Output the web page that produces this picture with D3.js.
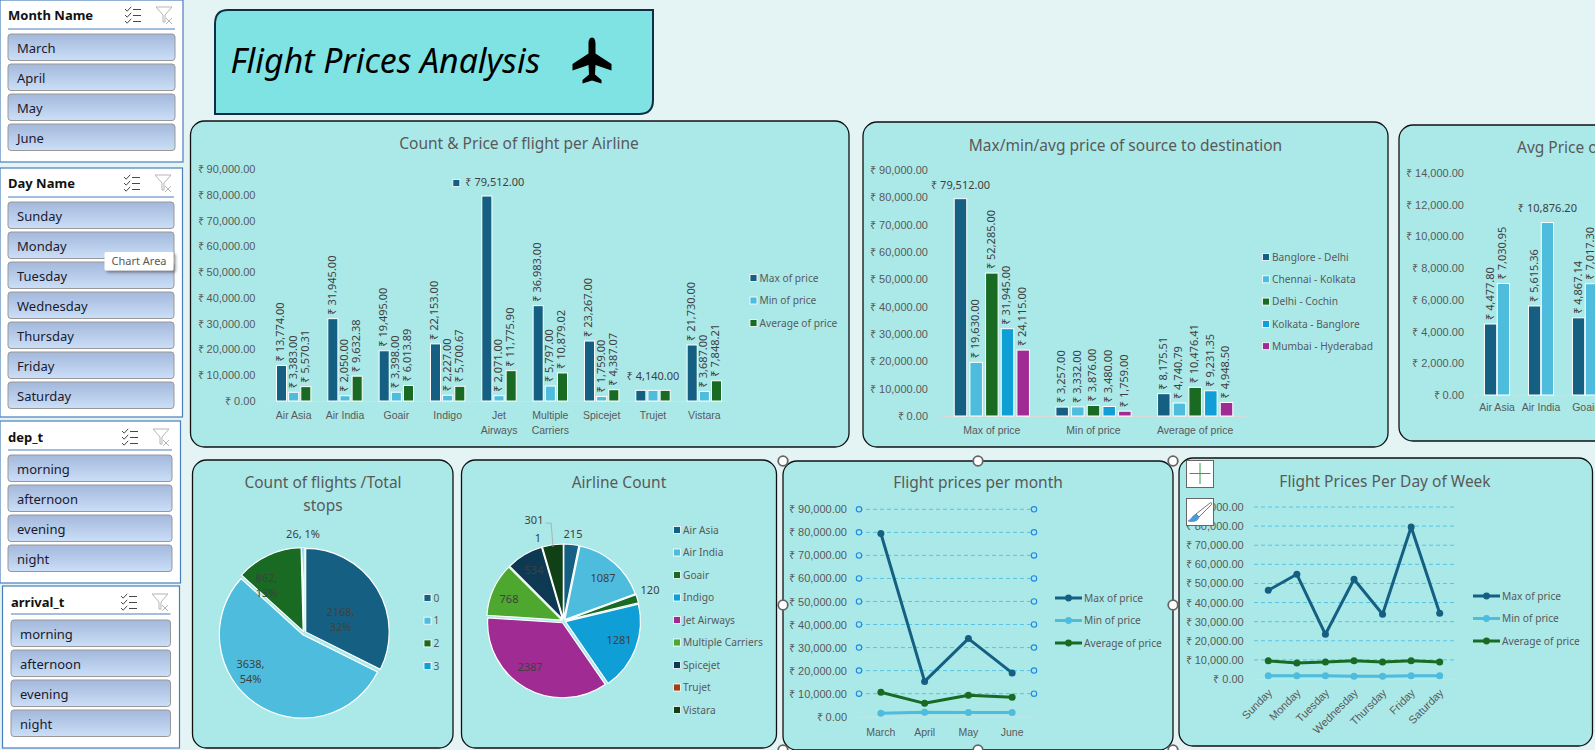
<!DOCTYPE html>
<html>
<head>
<meta charset="utf-8">
<title>Flight Prices Analysis</title>
<script src="https://cdn.jsdelivr.net/npm/d3@7/dist/d3.min.js"></script>
<style>
html, body { margin: 0; padding: 0; width: 1595px; height: 750px; overflow: hidden; background: #e4f4f4; }
svg { display: block; font-family: "Noto Sans", sans-serif; }
text { fill: #595959; }
</style>
</head>
<body>
<svg id="board" width="1595" height="750"></svg>
<script>
/*---------- DATA ----------*/
const monthNames = ["March", "April", "May", "June"];
const dayNames = ["Sunday", "Monday", "Tuesday", "Wednesday", "Thursday", "Friday", "Saturday"];
const timeNames = ["morning", "afternoon", "evening", "night"];

const airlines = ["Air Asia", "Air India", "Goair", "Indigo", "Jet Airways", "Multiple Carriers", "Spicejet", "Trujet", "Vistara"];
const priceSeries = ["Max of price", "Min of price", "Average of price"];
const airlineMax = [13774, 31945, 19495, 22153, 79512, 36983, 23267, 4140, 21730];
const airlineMin = [3383, 2050, 3398, 2227, 2071, 5797, 1759, 4140, 3687];
const airlineAvg = [5570.31, 9632.38, 6013.89, 5700.67, 11775.90, 10879.02, 4387.07, 4140, 7848.21];

const routes = ["Banglore - Delhi", "Chennai - Kolkata", "Delhi - Cochin", "Kolkata - Banglore", "Mumbai - Hyderabad"];
const routeMax = [79512, 19630, 52285, 31945, 24115];
const routeMin = [3257, 3332, 3876, 3480, 1759];
const routeAvg = [8175.51, 4740.79, 10476.41, 9231.35, 4948.50];

const cutAirlines = ["Air Asia", "Air India", "Goair"];
const cutFirst = [4477.80, 5615.36, 4867.14];
const cutSecond = [7030.95, 10876.20, 7017.30];

const stopNames = ["0", "1", "2", "3"];
const stopCounts = [2168, 3638, 862, 26];
const stopShares = [32, 54, 13, 1];
const airlineCounts = [215, 1087, 120, 1281, 2387, 768, 534, 1, 301];

const monthMax = [79512, 15300, 33900, 19000];
const monthMin = [1500, 1900, 1800, 1800];
const monthAvg = [10600, 5800, 9300, 8400];

const dayMax = [46400, 54800, 23400, 52200, 33900, 79512, 34400];
const dayMin = [1700, 1700, 1700, 1500, 1500, 1700, 1700];
const dayAvg = [9500, 8400, 8900, 9500, 8900, 9500, 8900];

/*---------- STYLE ----------*/
const BLUE = "#156082", SKY = "#4ebcdc", GREEN = "#196b24", CYAN = "#0f9ed5", PURPLE = "#a02b93";
const LIME = "#4ea72e", NAVY = "#0d3a52", RUST = "#a0420f", FOREST = "#0f4016";
const CARD = "#abe9e9", LABEL = "#404040", AXIS = "#595959", BASE = "#d4dcdc";
const TICK_SIZE = 11;

const rupee = d => "₹ " + d3.format(",.2f")(d);
const svg = d3.select("#board");

const defs = svg.append("defs");
const grad = defs.append("linearGradient").attr("id", "slicerBtn").attr("x1", 0).attr("x2", 0).attr("y1", 0).attr("y2", 1);
grad.append("stop").attr("offset", "0%").attr("stop-color", "#a3b8db");
grad.append("stop").attr("offset", "100%").attr("stop-color", "#cbdff8");
const blur = defs.append("filter").attr("id", "tipShadow").attr("x", "-20%").attr("y", "-30%").attr("width", "150%").attr("height", "180%");
blur.append("feDropShadow").attr("dx", 2).attr("dy", 2).attr("stdDeviation", 1.5).attr("flood-color", "#555").attr("flood-opacity", 0.7);

/*---------- SHARED BITS ----------*/

//rounded card behind each chart
function card(x, y, w, h) {
    svg.append("rect")
        .attr("x", x).attr("y", y).attr("width", w).attr("height", h)
        .attr("rx", 14).attr("ry", 14)
        .attr("fill", CARD).attr("stroke", "#111").attr("stroke-width", 1.3);
}

//chart title, one text line per entry
function title(lines, cx, y, anchor) {
    lines.forEach((t, i) => {
        svg.append("text")
            .attr("x", cx).attr("y", y + 2 + i * 23)
            .attr("text-anchor", anchor || "middle")
            .attr("dominant-baseline", "middle")
            .attr("font-size", 15.5)
            .text(t);
    });
}

//square legend keys
function swatchLegend(names, colors, x, y, step, size) {
    names.forEach((n, i) => {
        const cy = y + i * step;
        svg.append("rect").attr("x", x - 3.5).attr("y", cy - 3.5).attr("width", 7).attr("height", 7)
            .attr("fill", colors[i]).attr("stroke", "#fff").attr("stroke-width", 0.8);
        svg.append("text").attr("x", x + 6).attr("y", cy + 1)
            .attr("dominant-baseline", "middle").attr("font-size", size || 10.2).text(n);
    });
}

//line + dot legend keys
function lineLegend(names, colors, x, y, step) {
    names.forEach((n, i) => {
        const cy = y + i * step;
        svg.append("line").attr("x1", x).attr("x2", x + 27).attr("y1", cy).attr("y2", cy)
            .attr("stroke", colors[i]).attr("stroke-width", 3);
        svg.append("circle").attr("cx", x + 13.5).attr("cy", cy).attr("r", 3.4).attr("fill", colors[i]);
        svg.append("text").attr("x", x + 29).attr("y", cy + 1)
            .attr("dominant-baseline", "middle").attr("font-size", 10.2).text(n);
    });
}

//value axis, labels only
function valueAxis(y, x, ticks) {
    const g = svg.append("g").attr("transform", `translate(${x},0)`)
        .call(d3.axisLeft(y).tickValues(ticks).tickFormat(rupee).tickSize(0).tickPadding(0));
    g.select(".domain").remove();
    g.selectAll("text").attr("font-size", TICK_SIZE).attr("font-family", "inherit").style("fill", AXIS);
    return g;
}

//category axis with a faint base line, long names go on two lines
function categoryAxis(x, y0, pad, wrap) {
    const g = svg.append("g").attr("transform", `translate(0,${y0})`)
        .call(d3.axisBottom(x).tickSize(0).tickPadding(pad));
    g.select(".domain").attr("stroke", BASE);
    g.selectAll("text").attr("font-size", 10.5).attr("font-family", "inherit").style("fill", AXIS);
    if (wrap) {
        g.selectAll("text").each(function (d) {
            if (d.length < 10) return;
            const words = d.split(" ");
            const t = d3.select(this).text(null);
            words.forEach((w, i) => t.append("tspan").attr("x", 0).attr("dy", i ? 15 : "0.71em").text(w));
        });
    }
    return g;
}

/*---------- BARS ----------*/

//grouped columns with vertical data labels
function barChart(o) {
    const y = d3.scaleLinear().domain([0, o.maxValue]).range([o.y0, o.yTop]);
    const x0 = d3.scaleBand().domain(o.categories).range([o.x0, o.x1]).paddingInner(o.groupPad).paddingOuter(o.groupPad / 2);
    const x1 = d3.scaleBand().domain(o.series.map((s, i) => i)).range([0, x0.bandwidth()]).paddingInner(o.barPad);

    valueAxis(y, o.labelX, o.ticks);
    categoryAxis(x0, o.y0, o.catPad, o.wrap);

    o.series.forEach((vals, s) => {
        const g = svg.append("g");
        g.selectAll("rect").data(vals).enter().append("rect")
            .attr("x", (d, i) => x0(o.categories[i]) + x1(s))
            .attr("y", d => y(d))
            .attr("width", x1.bandwidth())
            .attr("height", d => o.y0 - y(d))
            .attr("fill", o.colors[s])
            .attr("stroke", "#fff").attr("stroke-width", 1);

        vals.forEach((d, i) => {
            const key = s + ":" + i;
            if (o.hidden && o.hidden.includes(key)) return;
            const cx = x0(o.categories[i]) + x1(s) + x1.bandwidth() / 2;
            const flat = o.flat && o.flat[key];
            if (flat) {
                svg.append("text").attr("x", cx + flat.dx).attr("y", y(d) - 13)
                    .attr("text-anchor", "middle").attr("dominant-baseline", "middle")
                    .attr("font-size", TICK_SIZE).style("fill", LABEL).text(rupee(d));
                if (flat.key) {
                    svg.append("rect").attr("x", cx - 34).attr("y", y(d) - 16.5).attr("width", 7).attr("height", 7)
                        .attr("fill", o.colors[s]).attr("stroke", "#fff").attr("stroke-width", 0.8);
                }
            } else {
                svg.append("text")
                    .attr("transform", `translate(${cx},${y(d) - 4}) rotate(-90)`)
                    .attr("dominant-baseline", "middle")
                    .attr("font-size", TICK_SIZE).style("fill", LABEL).text(rupee(d));
            }
        });
    });
    return x0;
}

/*---------- LINES ----------*/

function lineChart(o) {
    const y = d3.scaleLinear().domain([0, 90000]).range([o.y0, o.yTop]);
    const x = d3.scaleBand().domain(o.categories).range([o.x0, o.x1]);
    const ticks = d3.range(0, 90001, 10000);

    valueAxis(y, o.labelX, ticks);

    const grid = ticks.slice(1);
    svg.append("g").selectAll("line").data(grid).enter().append("line")
        .attr("x1", o.x0).attr("x2", o.x1)
        .attr("y1", d => y(d)).attr("y2", d => y(d))
        .attr("stroke", "#4cc0e4").attr("stroke-width", 0.9).attr("stroke-dasharray", "4 3");

    if (o.gridHandles) {
        [o.x0, o.x1].forEach(hx => {
            svg.append("g").selectAll("circle").data(grid).enter().append("circle")
                .attr("cx", hx).attr("cy", d => y(d)).attr("r", 2.7)
                .attr("fill", CARD).attr("stroke", "#1e88e5").attr("stroke-width", 1.1);
        });
    }

    const axis = categoryAxis(x, o.y0, 12, false);
    if (o.slanted) {
        axis.selectAll("text")
            .attr("text-anchor", "end")
            .attr("dy", 0)
            .attr("font-size", 11)
            .attr("dominant-baseline", "middle")
            .attr("transform", "translate(-6,4) rotate(-45)");
    }

    const path = d3.line().x((d, i) => x(o.categories[i]) + x.bandwidth() / 2).y(d => y(d));
    o.series.forEach((vals, s) => {
        svg.append("path").attr("d", path(vals)).attr("fill", "none")
            .attr("stroke", o.colors[s]).attr("stroke-width", 3).attr("stroke-linejoin", "round");
        svg.append("g").selectAll("circle").data(vals).enter().append("circle")
            .attr("cx", (d, i) => x(o.categories[i]) + x.bandwidth() / 2)
            .attr("cy", d => y(d)).attr("r", 3.5).attr("fill", o.colors[s]);
    });
}

/*---------- PIES ----------*/

function pieChart(o) {
    const arcs = d3.pie().sort(null)(o.values);
    const arc = d3.arc().innerRadius(0).outerRadius(o.radius);
    const g = svg.append("g").attr("transform", `translate(${o.cx},${o.cy})`);

    g.selectAll("path").data(arcs).enter().append("path")
        .attr("d", arc)
        .attr("fill", (d, i) => o.colors[i])
        .attr("stroke", "#fff").attr("stroke-width", 1.2)
        .attr("transform", d => {
            const mid = (d.startAngle + d.endAngle) / 2;
            return `translate(${Math.sin(mid) * o.explode},${-Math.cos(mid) * o.explode})`;
        });

    o.labels.forEach((lines, i) => {
        lines.forEach((t, j) => {
            g.append("text")
                .attr("x", o.labelAt[i][0])
                .attr("y", o.labelAt[i][1] + 1 + (j - (lines.length - 1) / 2) * 15)
                .attr("text-anchor", "middle").attr("dominant-baseline", "middle")
                .attr("font-size", 11).style("fill", LABEL).text(t);
        });
    });
    return g;
}

/*---------- SLICERS ----------*/

function slicer(o) {
    svg.append("rect").attr("x", o.x).attr("y", o.y).attr("width", o.w).attr("height", o.h)
        .attr("fill", "#fff").attr("stroke", "#4a7ebb").attr("stroke-width", 1.2);
    svg.append("text").attr("x", o.bx).attr("y", o.headY + 1)
        .attr("dominant-baseline", "middle").attr("font-size", 13).attr("font-weight", 700)
        .style("fill", "#111").text(o.name);
    svg.append("line").attr("x1", o.bx).attr("x2", o.bx + o.bw).attr("y1", o.lineY).attr("y2", o.lineY)
        .attr("stroke", "#4a7ebb").attr("stroke-width", 1.1);

    //multi select icon
    const ms = svg.append("g").attr("transform", `translate(${o.iconX},${o.headY - 7})`)
        .attr("fill", "none").attr("stroke", "#333").attr("stroke-width", 0.9);
    [1, 7, 13].forEach(d => {
        ms.append("path").attr("d", `M0,${d} l2.2,2.2 l4,-4.4`);
        ms.append("line").attr("x1", 8).attr("x2", 16).attr("y1", d + 0.5).attr("y2", d + 0.5);
    });

    //clear filter icon
    const fl = svg.append("g").attr("transform", `translate(${o.iconX + 31},${o.headY - 8})`)
        .attr("fill", "none").attr("stroke", "#b5b5b5").attr("stroke-width", 1);
    fl.append("path").attr("d", "M0,0 H16 L9,8 V15 H7 V8 Z");
    fl.append("path").attr("d", "M10,11 l6,6 M16,11 l-6,6");

    o.items.forEach((t, i) => {
        const by = o.btnY + i * 30;
        svg.append("rect").attr("x", o.bx).attr("y", by).attr("width", o.bw).attr("height", 26.5)
            .attr("rx", 3).attr("fill", "url(#slicerBtn)").attr("stroke", "#989898").attr("stroke-width", 1);
        svg.append("text").attr("x", o.bx + 9).attr("y", by + 15.5)
            .attr("dominant-baseline", "middle").attr("font-size", 13).style("fill", "#1a1a2e").text(t);
    });
}

/*---------- DRAW ----------*/

slicer({name: "Month Name", items: monthNames, x: 0, y: 0, w: 183, h: 162, bx: 8, bw: 167, headY: 15, lineY: 29, btnY: 34, iconX: 125});
slicer({name: "Day Name", items: dayNames, x: 0, y: 168, w: 182.5, h: 249, bx: 8, bw: 166, headY: 183, lineY: 197, btnY: 202, iconX: 124});
slicer({name: "dep_t", items: timeNames, x: 0, y: 421, w: 180.5, h: 162, bx: 8, bw: 164, headY: 437, lineY: 450, btnY: 455, iconX: 122});
slicer({name: "arrival_t", items: timeNames, x: 2.5, y: 586, w: 177, h: 162, bx: 11, bw: 159.5, headY: 602, lineY: 614, btnY: 620, iconX: 121});

//banner with two square corners
svg.append("path")
    .attr("d", "M228,10 H653 V100 Q653,114 639,114 H215 V24 Q215,10 228,10 Z")
    .attr("fill", "#7fe3e3").attr("stroke", "#0d2e44").attr("stroke-width", 2);
svg.append("text").attr("x", 230.5).attr("y", 73)
    .attr("font-size", 33.8).attr("font-style", "italic").style("fill", "#000").text("Flight Prices Analysis");
svg.append("path").attr("transform", "translate(592,60.5)")
    .attr("fill", "#000")
    .attr("d", "M0,-23 C2.5,-23 3.5,-20 3.5,-17 L3.5,-7 L19.5,3.5 L19.5,10 L3.5,4.5 L3,14 L9.5,19.5 L9.5,23 L0,20 L-9.5,23 L-9.5,19.5 L-3,14 L-3.5,4.5 L-19.5,10 L-19.5,3.5 L-3.5,-7 L-3.5,-17 C-3.5,-20 -2.5,-23 0,-23 Z");

//top row
card(190.5, 121, 658.5, 326);
title(["Count & Price of flight per Airline"], 519, 143);
barChart({
    categories: airlines, series: [airlineMax, airlineMin, airlineAvg], colors: [BLUE, SKY, GREEN],
    maxValue: 90000, ticks: d3.range(0, 90001, 10000),
    x0: 268, x1: 730, y0: 401, yTop: 169, labelX: 255.5,
    groupPad: 0.33, barPad: 0.17, wrap: true, catPad: 10.5,
    flat: {"0:4": {dx: 8, key: true}, "1:7": {dx: 0}},
    hidden: ["0:7", "2:7"]
});
swatchLegend(priceSeries, [BLUE, SKY, GREEN], 753.5, 278, 22.5);

card(863, 122, 525, 325);
title(["Max/min/avg price of source to destination"], 1125.5, 144.5);
barChart({
    categories: priceSeries, series: d3.range(routes.length).map(i => [routeMax[i], routeMin[i], routeAvg[i]]),
    colors: [BLUE, SKY, GREEN, CYAN, PURPLE],
    maxValue: 90000, ticks: d3.range(0, 90001, 10000),
    x0: 941, x1: 1246, y0: 416, yTop: 170, labelX: 928,
    groupPad: 0.26, barPad: 0.2, catPad: 11,
    flat: {"0:0": {dx: 0}}
});
swatchLegend(routes, [BLUE, SKY, GREEN, CYAN, PURPLE], 1266, 257, 22.3);

card(1399, 125, 260, 316);
title(["Avg Price of flight"], 1517, 147, "start");
const cutX = barChart({
    categories: cutAirlines, series: [cutFirst, cutSecond], colors: [BLUE, SKY],
    maxValue: 14000, ticks: d3.range(0, 14001, 2000),
    x0: 1475, x1: 1607, y0: 395, yTop: 173, labelX: 1464,
    groupPad: 0.43, barPad: 0.04, catPad: 9,
    flat: {"1:1": {dx: 0}}
});
//small separators between categories on this axis only
svg.append("g").selectAll("line").data(cutAirlines).enter().append("line")
    .attr("x1", d => cutX(d) - cutX.step() * 0.215).attr("x2", d => cutX(d) - cutX.step() * 0.215)
    .attr("y1", 395).attr("y2", 399).attr("stroke", BASE);

//bottom row
card(192.5, 460, 260.5, 288);
title(["Count of flights /Total", "stops"], 323, 482);
pieChart({
    values: stopCounts, colors: [BLUE, SKY, GREEN, CYAN], cx: 304, cy: 633, radius: 83.5, explode: 2,
    labels: stopCounts.map((d, i) => i === 3 ? [`${d}, ${stopShares[i]}%`] : [`${d},`, `${stopShares[i]}%`]),
    labelAt: [[36.5, -13.5], [-53.5, 38.5], [-37.5, -47.5], [-1, -99]]
});
swatchLegend(stopNames, [BLUE, SKY, GREEN, CYAN], 427.5, 598, 22.7);

card(461.5, 460, 315, 288);
title(["Airline Count"], 619, 482);
const airlinePie = pieChart({
    values: airlineCounts, colors: [BLUE, SKY, GREEN, CYAN, PURPLE, LIME, NAVY, RUST, FOREST],
    cx: 563.6, cy: 621, radius: 75, explode: 2,
    labels: airlineCounts.map(d => [String(d)]),
    labelAt: [[9.4, -87], [39.4, -43], [86.4, -31], [55.4, 19], [-33.6, 46], [-54.6, -22], [-29.6, -51], [-25.6, -83], [-29.6, -101]]
});
airlinePie.append("path").attr("d", "M-18,-98 H-12.5 L-10.5,-74")
    .attr("fill", "none").attr("stroke", "#a6a6a6").attr("stroke-width", 0.8);
swatchLegend(airlines, [BLUE, SKY, GREEN, CYAN, PURPLE, LIME, NAVY, RUST, FOREST], 677, 530, 22.5);

card(783, 461, 390, 289);
title(["Flight prices per month"], 978, 482);
lineChart({
    categories: monthNames, series: [monthMax, monthMin, monthAvg], colors: [BLUE, SKY, GREEN],
    x0: 859, x1: 1034, y0: 716.7, yTop: 509.3, labelX: 847, gridHandles: true
});
lineLegend(priceSeries, [BLUE, SKY, GREEN], 1055, 598, 22.5);

card(1179, 458, 413.5, 288);
title(["Flight Prices Per Day of Week"], 1385, 480.5);
lineChart({
    categories: dayNames, series: [dayMax, dayMin, dayAvg], colors: [BLUE, SKY, GREEN],
    x0: 1254, x1: 1454, y0: 679, yTop: 507, labelX: 1243.7, slanted: true
});
lineLegend(priceSeries, [BLUE, SKY, GREEN], 1473, 596, 22.5);

//selection handles on the active chart
[[783, 461], [978, 461], [1173, 461], [783, 605], [1173, 605], [783, 750], [978, 750], [1173, 750]].forEach(p => {
    svg.append("circle").attr("cx", p[0]).attr("cy", p[1]).attr("r", 4.8)
        .attr("fill", "#fff").attr("stroke", "#666").attr("stroke-width", 1.8);
});

//chart edit buttons
svg.append("rect").attr("x", 1186.5).attr("y", 460.5).attr("width", 27).attr("height", 27)
    .attr("fill", "#fff").attr("stroke", "#666");
svg.append("path").attr("d", "M1200,463 V484 M1189.5,473.5 H1210.5").attr("stroke", "#2e9e4f").attr("stroke-width", 1).attr("fill", "none");
svg.append("rect").attr("x", 1186.5).attr("y", 498.5).attr("width", 27).attr("height", 27)
    .attr("fill", "#fff").attr("stroke", "#666");
svg.append("path").attr("d", "M1210,503 C1211,502 1212,503 1211.5,504.5 L1199,517 L1196,514 Z")
    .attr("fill", "#fff").attr("stroke", "#555").attr("stroke-width", 0.8);
svg.append("path").attr("d", "M1196,514 L1199,517 C1198,521 1194,522.5 1188,521 C1191,520 1192,516 1196,514 Z")
    .attr("fill", "#4f9bd9").attr("stroke", "#2f6fa8").attr("stroke-width", 0.5);

//hover tooltip over the slicer
svg.append("rect").attr("x", 104.5).attr("y", 252).attr("width", 69).attr("height", 18.5)
    .attr("rx", 1.5).attr("fill", "#fff").attr("filter", "url(#tipShadow)");
svg.append("text").attr("x", 139).attr("y", 262).attr("text-anchor", "middle")
    .attr("dominant-baseline", "middle").attr("font-size", 11).text("Chart Area");
</script>
</body>
</html>
